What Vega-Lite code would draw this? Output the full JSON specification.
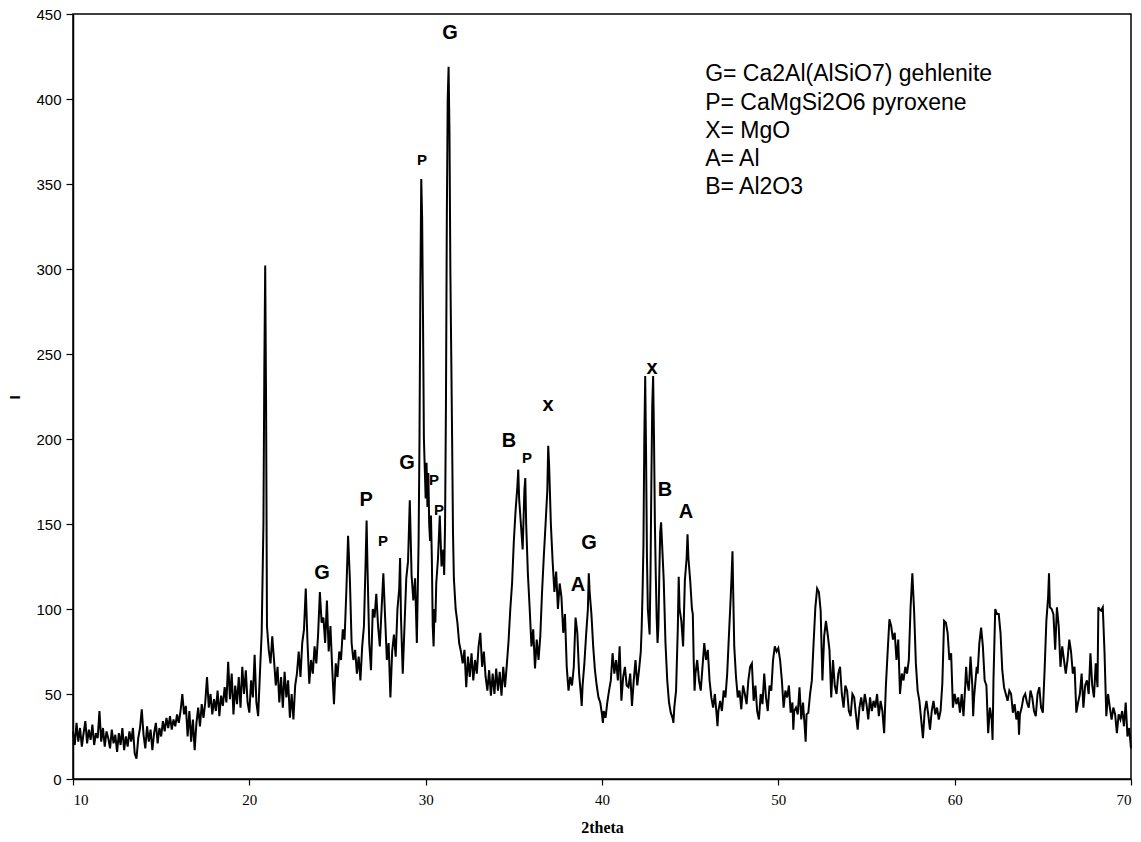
{
"$schema": "https://vega.github.io/schema/vega-lite/v6.json",
"width": 1058, "height": 765,
"autosize": {"type": "none"},
"padding": {"left": 73, "top": 14, "right": 10, "bottom": 63},
"background": "white",
"config": {"view": {"stroke": "black", "strokeWidth": 1.5}, "font": "Liberation Sans"},
"datasets": {
"xrd": [
{"t":10.0,"i":28},{"t":10.1,"i":20},{"t":10.2,"i":33},{"t":10.3,"i":22},{"t":10.4,"i":30},{"t":10.5,"i":19},{"t":10.6,"i":27},{"t":10.7,"i":34},{"t":10.8,"i":21},{"t":10.9,"i":29},
{"t":11.0,"i":23},{"t":11.1,"i":32},{"t":11.2,"i":20},{"t":11.3,"i":27},{"t":11.4,"i":24},{"t":11.5,"i":40},{"t":11.6,"i":22},{"t":11.7,"i":30},{"t":11.8,"i":19},{"t":11.9,"i":28},
{"t":12.0,"i":24},{"t":12.1,"i":18},{"t":12.2,"i":29},{"t":12.3,"i":21},{"t":12.4,"i":26},{"t":12.5,"i":16},{"t":12.6,"i":27},{"t":12.7,"i":20},{"t":12.8,"i":30},{"t":12.9,"i":17},
{"t":13.0,"i":25},{"t":13.1,"i":19},{"t":13.2,"i":28},{"t":13.3,"i":22},{"t":13.4,"i":30},{"t":13.5,"i":15},{"t":13.6,"i":12},{"t":13.7,"i":24},{"t":13.8,"i":30},{"t":13.9,"i":41},
{"t":14.0,"i":26},{"t":14.1,"i":18},{"t":14.2,"i":31},{"t":14.3,"i":22},{"t":14.4,"i":29},{"t":14.5,"i":17},{"t":14.6,"i":27},{"t":14.7,"i":33},{"t":14.8,"i":21},{"t":14.9,"i":30},
{"t":15.0,"i":25},{"t":15.1,"i":34},{"t":15.2,"i":28},{"t":15.3,"i":36},{"t":15.4,"i":30},{"t":15.5,"i":37},{"t":15.6,"i":29},{"t":15.7,"i":35},{"t":15.8,"i":31},{"t":15.9,"i":38},
{"t":16.0,"i":33},{"t":16.1,"i":40},{"t":16.2,"i":50},{"t":16.3,"i":38},{"t":16.4,"i":43},{"t":16.5,"i":25},{"t":16.6,"i":40},{"t":16.7,"i":22},{"t":16.8,"i":35},{"t":16.9,"i":17},
{"t":17.0,"i":33},{"t":17.1,"i":42},{"t":17.2,"i":31},{"t":17.3,"i":44},{"t":17.4,"i":36},{"t":17.5,"i":45},{"t":17.6,"i":60},{"t":17.7,"i":42},{"t":17.8,"i":50},{"t":17.9,"i":38},
{"t":18.0,"i":47},{"t":18.1,"i":40},{"t":18.2,"i":52},{"t":18.3,"i":37},{"t":18.4,"i":49},{"t":18.5,"i":43},{"t":18.6,"i":54},{"t":18.7,"i":45},{"t":18.8,"i":69},{"t":18.9,"i":47},
{"t":19.0,"i":62},{"t":19.1,"i":38},{"t":19.2,"i":55},{"t":19.3,"i":44},{"t":19.4,"i":60},{"t":19.5,"i":42},{"t":19.6,"i":66},{"t":19.7,"i":50},{"t":19.8,"i":64},{"t":19.9,"i":45},
{"t":20.0,"i":39},{"t":20.1,"i":58},{"t":20.2,"i":48},{"t":20.3,"i":73},{"t":20.4,"i":45},{"t":20.5,"i":37},{"t":20.6,"i":62},{"t":20.7,"i":86},{"t":20.8,"i":150},{"t":20.85,"i":240},
{"t":20.9,"i":302},{"t":20.95,"i":220},{"t":21.0,"i":90},{"t":21.1,"i":76},{"t":21.2,"i":68},{"t":21.3,"i":84},{"t":21.4,"i":70},{"t":21.5,"i":55},{"t":21.6,"i":66},{"t":21.7,"i":45},
{"t":21.8,"i":60},{"t":21.9,"i":42},{"t":22.0,"i":63},{"t":22.1,"i":48},{"t":22.2,"i":58},{"t":22.3,"i":36},{"t":22.4,"i":50},{"t":22.5,"i":35},{"t":22.6,"i":55},{"t":22.7,"i":62},
{"t":22.8,"i":75},{"t":22.9,"i":60},{"t":23.0,"i":80},{"t":23.1,"i":88},{"t":23.2,"i":112},{"t":23.3,"i":80},{"t":23.4,"i":56},{"t":23.5,"i":70},{"t":23.6,"i":62},{"t":23.7,"i":78},
{"t":23.8,"i":68},{"t":23.9,"i":85},{"t":24.0,"i":110},{"t":24.1,"i":92},{"t":24.2,"i":95},{"t":24.3,"i":80},{"t":24.4,"i":105},{"t":24.5,"i":75},{"t":24.6,"i":90},{"t":24.7,"i":65},
{"t":24.8,"i":44},{"t":24.9,"i":68},{"t":25.0,"i":60},{"t":25.1,"i":75},{"t":25.2,"i":70},{"t":25.3,"i":88},{"t":25.4,"i":82},{"t":25.5,"i":110},{"t":25.6,"i":143},{"t":25.7,"i":118},
{"t":25.8,"i":80},{"t":25.9,"i":70},{"t":26.0,"i":76},{"t":26.1,"i":62},{"t":26.2,"i":72},{"t":26.3,"i":58},{"t":26.4,"i":78},{"t":26.5,"i":90},{"t":26.6,"i":130},{"t":26.65,"i":152},
{"t":26.7,"i":125},{"t":26.8,"i":80},{"t":26.9,"i":64},{"t":27.0,"i":100},{"t":27.1,"i":95},{"t":27.2,"i":109},{"t":27.3,"i":90},{"t":27.4,"i":78},{"t":27.5,"i":100},{"t":27.6,"i":121},
{"t":27.7,"i":95},{"t":27.8,"i":70},{"t":27.9,"i":80},{"t":28.0,"i":48},{"t":28.1,"i":75},{"t":28.2,"i":85},{"t":28.3,"i":72},{"t":28.4,"i":100},{"t":28.5,"i":112},{"t":28.55,"i":130},
{"t":28.6,"i":95},{"t":28.7,"i":62},{"t":28.8,"i":90},{"t":28.9,"i":118},{"t":29.0,"i":128},{"t":29.1,"i":164},{"t":29.2,"i":120},{"t":29.3,"i":105},{"t":29.4,"i":118},{"t":29.5,"i":80},
{"t":29.6,"i":140},{"t":29.65,"i":200},{"t":29.7,"i":290},{"t":29.75,"i":353},{"t":29.8,"i":330},{"t":29.85,"i":270},{"t":29.9,"i":200},{"t":30.0,"i":165},{"t":30.05,"i":186},{"t":30.1,"i":160},
{"t":30.15,"i":180},{"t":30.2,"i":150},{"t":30.25,"i":140},{"t":30.3,"i":155},{"t":30.35,"i":130},{"t":30.4,"i":90},{"t":30.45,"i":78},{"t":30.5,"i":100},{"t":30.55,"i":92},{"t":30.6,"i":115},
{"t":30.7,"i":130},{"t":30.8,"i":155},{"t":30.85,"i":140},{"t":30.9,"i":125},{"t":31.0,"i":135},{"t":31.05,"i":120},{"t":31.1,"i":150},{"t":31.15,"i":220},{"t":31.2,"i":330},{"t":31.25,"i":400},
{"t":31.3,"i":419},{"t":31.35,"i":380},{"t":31.4,"i":300},{"t":31.45,"i":250},{"t":31.5,"i":200},{"t":31.55,"i":145},{"t":31.6,"i":118},{"t":31.7,"i":100},{"t":31.8,"i":92},{"t":31.9,"i":80},
{"t":32.0,"i":75},{"t":32.1,"i":68},{"t":32.2,"i":76},{"t":32.3,"i":54},{"t":32.4,"i":72},{"t":32.5,"i":60},{"t":32.6,"i":74},{"t":32.7,"i":58},{"t":32.8,"i":70},{"t":32.9,"i":62},
{"t":33.0,"i":78},{"t":33.1,"i":86},{"t":33.2,"i":66},{"t":33.3,"i":75},{"t":33.4,"i":60},{"t":33.5,"i":52},{"t":33.6,"i":64},{"t":33.7,"i":49},{"t":33.8,"i":62},{"t":33.9,"i":50},
{"t":34.0,"i":65},{"t":34.1,"i":52},{"t":34.2,"i":63},{"t":34.3,"i":49},{"t":34.4,"i":66},{"t":34.5,"i":54},{"t":34.6,"i":67},{"t":34.7,"i":81},{"t":34.8,"i":100},{"t":34.9,"i":115},
{"t":35.0,"i":140},{"t":35.1,"i":158},{"t":35.2,"i":172},{"t":35.25,"i":182},{"t":35.3,"i":165},{"t":35.4,"i":150},{"t":35.5,"i":135},{"t":35.6,"i":170},{"t":35.65,"i":177},{"t":35.7,"i":150},
{"t":35.8,"i":120},{"t":35.9,"i":100},{"t":36.0,"i":78},{"t":36.1,"i":88},{"t":36.2,"i":65},{"t":36.3,"i":82},{"t":36.4,"i":70},{"t":36.5,"i":84},{"t":36.6,"i":110},{"t":36.7,"i":131},
{"t":36.8,"i":150},{"t":36.9,"i":170},{"t":36.95,"i":196},{"t":37.0,"i":185},{"t":37.1,"i":150},{"t":37.2,"i":128},{"t":37.3,"i":110},{"t":37.4,"i":122},{"t":37.5,"i":100},{"t":37.6,"i":115},
{"t":37.7,"i":107},{"t":37.8,"i":86},{"t":37.9,"i":97},{"t":38.0,"i":66},{"t":38.1,"i":52},{"t":38.2,"i":60},{"t":38.3,"i":55},{"t":38.4,"i":66},{"t":38.5,"i":95},{"t":38.6,"i":86},
{"t":38.7,"i":62},{"t":38.8,"i":50},{"t":38.85,"i":43},{"t":38.9,"i":55},{"t":39.0,"i":68},{"t":39.1,"i":85},{"t":39.2,"i":100},{"t":39.25,"i":121},{"t":39.3,"i":110},{"t":39.4,"i":97},
{"t":39.5,"i":78},{"t":39.6,"i":64},{"t":39.7,"i":55},{"t":39.8,"i":48},{"t":39.9,"i":45},{"t":40.0,"i":38},{"t":40.05,"i":33},{"t":40.1,"i":40},{"t":40.2,"i":36},{"t":40.3,"i":45},
{"t":40.4,"i":52},{"t":40.5,"i":58},{"t":40.6,"i":74},{"t":40.7,"i":62},{"t":40.8,"i":70},{"t":40.9,"i":58},{"t":41.0,"i":78},{"t":41.1,"i":46},{"t":41.2,"i":60},{"t":41.3,"i":66},
{"t":41.4,"i":55},{"t":41.5,"i":54},{"t":41.6,"i":62},{"t":41.7,"i":43},{"t":41.8,"i":58},{"t":41.9,"i":70},{"t":42.0,"i":55},{"t":42.1,"i":64},{"t":42.2,"i":75},{"t":42.25,"i":89},
{"t":42.3,"i":110},{"t":42.35,"i":137},{"t":42.4,"i":200},{"t":42.45,"i":237},{"t":42.5,"i":190},{"t":42.55,"i":130},{"t":42.6,"i":100},{"t":42.7,"i":85},{"t":42.75,"i":120},{"t":42.8,"i":175},
{"t":42.85,"i":220},{"t":42.9,"i":237},{"t":42.95,"i":200},{"t":43.0,"i":150},{"t":43.05,"i":120},{"t":43.1,"i":95},{"t":43.15,"i":80},{"t":43.2,"i":90},{"t":43.25,"i":120},{"t":43.3,"i":145},
{"t":43.35,"i":151},{"t":43.4,"i":140},{"t":43.5,"i":117},{"t":43.6,"i":80},{"t":43.7,"i":58},{"t":43.8,"i":45},{"t":43.9,"i":39},{"t":44.0,"i":36},{"t":44.05,"i":33},{"t":44.1,"i":42},
{"t":44.2,"i":52},{"t":44.3,"i":89},{"t":44.35,"i":119},{"t":44.4,"i":100},{"t":44.5,"i":93},{"t":44.6,"i":78},{"t":44.7,"i":117},{"t":44.8,"i":130},{"t":44.85,"i":144},{"t":44.9,"i":130},
{"t":45.0,"i":117},{"t":45.1,"i":100},{"t":45.15,"i":97},{"t":45.2,"i":70},{"t":45.25,"i":52},{"t":45.3,"i":62},{"t":45.4,"i":70},{"t":45.5,"i":58},{"t":45.6,"i":52},{"t":45.7,"i":66},
{"t":45.8,"i":80},{"t":45.9,"i":70},{"t":46.0,"i":76},{"t":46.1,"i":58},{"t":46.2,"i":48},{"t":46.3,"i":42},{"t":46.4,"i":50},{"t":46.5,"i":38},{"t":46.55,"i":31},{"t":46.6,"i":40},
{"t":46.7,"i":46},{"t":46.8,"i":40},{"t":46.9,"i":52},{"t":47.0,"i":48},{"t":47.1,"i":62},{"t":47.2,"i":85},{"t":47.3,"i":107},{"t":47.35,"i":120},{"t":47.4,"i":134},{"t":47.45,"i":105},
{"t":47.5,"i":78},{"t":47.6,"i":60},{"t":47.7,"i":48},{"t":47.8,"i":52},{"t":47.9,"i":41},{"t":48.0,"i":55},{"t":48.1,"i":50},{"t":48.2,"i":44},{"t":48.3,"i":58},{"t":48.4,"i":66},
{"t":48.5,"i":68},{"t":48.6,"i":46},{"t":48.7,"i":55},{"t":48.8,"i":40},{"t":48.9,"i":35},{"t":49.0,"i":50},{"t":49.1,"i":44},{"t":49.2,"i":62},{"t":49.3,"i":48},{"t":49.4,"i":40},
{"t":49.5,"i":55},{"t":49.6,"i":52},{"t":49.7,"i":70},{"t":49.8,"i":78},{"t":49.9,"i":75},{"t":50.0,"i":77},{"t":50.1,"i":70},{"t":50.2,"i":58},{"t":50.3,"i":42},{"t":50.4,"i":52},
{"t":50.5,"i":48},{"t":50.6,"i":55},{"t":50.7,"i":39},{"t":50.8,"i":45},{"t":50.85,"i":29},{"t":50.9,"i":40},{"t":51.0,"i":42},{"t":51.1,"i":38},{"t":51.2,"i":54},{"t":51.3,"i":35},
{"t":51.4,"i":45},{"t":51.5,"i":30},{"t":51.55,"i":22},{"t":51.6,"i":38},{"t":51.7,"i":39},{"t":51.8,"i":50},{"t":51.9,"i":58},{"t":52.0,"i":80},{"t":52.1,"i":101},{"t":52.2,"i":112},
{"t":52.3,"i":110},{"t":52.4,"i":99},{"t":52.5,"i":58},{"t":52.6,"i":84},{"t":52.7,"i":93},{"t":52.8,"i":85},{"t":52.9,"i":76},{"t":53.0,"i":48},{"t":53.1,"i":70},{"t":53.2,"i":55},
{"t":53.3,"i":50},{"t":53.4,"i":62},{"t":53.5,"i":66},{"t":53.6,"i":50},{"t":53.7,"i":42},{"t":53.8,"i":55},{"t":53.9,"i":52},{"t":54.0,"i":40},{"t":54.1,"i":37},{"t":54.2,"i":50},
{"t":54.3,"i":48},{"t":54.4,"i":38},{"t":54.5,"i":29},{"t":54.6,"i":42},{"t":54.7,"i":48},{"t":54.8,"i":40},{"t":54.9,"i":50},{"t":55.0,"i":44},{"t":55.1,"i":35},{"t":55.2,"i":48},
{"t":55.3,"i":40},{"t":55.4,"i":46},{"t":55.5,"i":42},{"t":55.6,"i":50},{"t":55.7,"i":37},{"t":55.8,"i":46},{"t":55.9,"i":40},{"t":56.0,"i":27},{"t":56.1,"i":55},{"t":56.2,"i":75},
{"t":56.3,"i":94},{"t":56.4,"i":90},{"t":56.5,"i":82},{"t":56.6,"i":86},{"t":56.7,"i":70},{"t":56.8,"i":82},{"t":56.9,"i":50},{"t":57.0,"i":62},{"t":57.1,"i":58},{"t":57.2,"i":66},
{"t":57.3,"i":62},{"t":57.4,"i":70},{"t":57.5,"i":101},{"t":57.6,"i":121},{"t":57.7,"i":99},{"t":57.8,"i":68},{"t":57.9,"i":52},{"t":58.0,"i":46},{"t":58.1,"i":35},{"t":58.2,"i":24},
{"t":58.3,"i":40},{"t":58.4,"i":46},{"t":58.5,"i":38},{"t":58.6,"i":29},{"t":58.7,"i":40},{"t":58.8,"i":46},{"t":58.9,"i":38},{"t":59.0,"i":42},{"t":59.1,"i":35},{"t":59.2,"i":40},
{"t":59.3,"i":56},{"t":59.4,"i":93},{"t":59.5,"i":92},{"t":59.6,"i":86},{"t":59.7,"i":70},{"t":59.8,"i":74},{"t":59.9,"i":42},{"t":60.0,"i":50},{"t":60.1,"i":44},{"t":60.2,"i":48},
{"t":60.3,"i":39},{"t":60.4,"i":50},{"t":60.5,"i":37},{"t":60.6,"i":55},{"t":60.65,"i":66},{"t":60.7,"i":58},{"t":60.8,"i":52},{"t":60.9,"i":72},{"t":61.0,"i":55},{"t":61.05,"i":37},
{"t":61.1,"i":48},{"t":61.2,"i":60},{"t":61.25,"i":66},{"t":61.3,"i":62},{"t":61.4,"i":80},{"t":61.5,"i":89},{"t":61.6,"i":78},{"t":61.7,"i":58},{"t":61.8,"i":55},{"t":61.9,"i":27},
{"t":62.0,"i":42},{"t":62.1,"i":35},{"t":62.15,"i":23},{"t":62.2,"i":58},{"t":62.3,"i":100},{"t":62.4,"i":97},{"t":62.5,"i":97},{"t":62.6,"i":86},{"t":62.7,"i":64},{"t":62.8,"i":54},
{"t":62.9,"i":50},{"t":63.0,"i":46},{"t":63.1,"i":52},{"t":63.2,"i":50},{"t":63.3,"i":39},{"t":63.4,"i":44},{"t":63.5,"i":35},{"t":63.6,"i":40},{"t":63.65,"i":26},{"t":63.7,"i":38},
{"t":63.8,"i":42},{"t":63.9,"i":48},{"t":64.0,"i":50},{"t":64.1,"i":45},{"t":64.2,"i":42},{"t":64.3,"i":52},{"t":64.4,"i":48},{"t":64.5,"i":40},{"t":64.6,"i":37},{"t":64.7,"i":50},
{"t":64.8,"i":54},{"t":64.9,"i":42},{"t":65.0,"i":39},{"t":65.1,"i":64},{"t":65.2,"i":93},{"t":65.3,"i":107},{"t":65.35,"i":121},{"t":65.4,"i":101},{"t":65.5,"i":100},{"t":65.6,"i":97},
{"t":65.7,"i":76},{"t":65.8,"i":101},{"t":65.9,"i":90},{"t":66.0,"i":66},{"t":66.1,"i":78},{"t":66.2,"i":70},{"t":66.3,"i":62},{"t":66.4,"i":70},{"t":66.5,"i":82},{"t":66.6,"i":75},
{"t":66.7,"i":62},{"t":66.8,"i":66},{"t":66.9,"i":39},{"t":67.0,"i":45},{"t":67.1,"i":50},{"t":67.2,"i":62},{"t":67.3,"i":42},{"t":67.4,"i":55},{"t":67.5,"i":58},{"t":67.6,"i":50},
{"t":67.7,"i":74},{"t":67.8,"i":55},{"t":67.9,"i":48},{"t":68.0,"i":68},{"t":68.1,"i":54},{"t":68.15,"i":101},{"t":68.2,"i":100},{"t":68.3,"i":99},{"t":68.4,"i":101},{"t":68.5,"i":74},
{"t":68.6,"i":37},{"t":68.7,"i":50},{"t":68.8,"i":42},{"t":68.9,"i":35},{"t":69.0,"i":42},{"t":69.1,"i":38},{"t":69.2,"i":27},{"t":69.3,"i":38},{"t":69.4,"i":35},{"t":69.5,"i":40},
{"t":69.6,"i":31},{"t":69.7,"i":45},{"t":69.8,"i":25},{"t":69.9,"i":30},{"t":70.0,"i":18}
],
"big": [
{"s":"G","t":24.12,"i":121},{"s":"P","t":26.62,"i":164},{"s":"G","t":28.94,"i":186},{"s":"G","t":31.38,"i":439},
{"s":"B","t":34.73,"i":199},{"s":"x","t":36.94,"i":220},{"s":"A","t":38.64,"i":114},{"s":"G","t":39.26,"i":139},
{"s":"x","t":42.84,"i":242},{"s":"B","t":43.57,"i":170},{"s":"A","t":44.76,"i":157}
],
"small": [
{"s":"P","t":27.58,"i":140},{"s":"P","t":29.79,"i":364},{"s":"P","t":30.47,"i":176},{"s":"P","t":30.76,"i":158},{"s":"P","t":35.75,"i":189}
]
},
"layer": [
{
"data": {"name": "xrd"},
"mark": {"type": "line", "color": "black", "strokeWidth": 2, "interpolate": "linear"},
"encoding": {
"x": {"field": "t", "type": "quantitative",
"scale": {"domain": [10, 70], "nice": false, "zero": false},
"axis": {"values": [10,20,30,40,50,60,70], "grid": false, "domainColor": "black", "domainWidth": 1.5, "tickColor": "black", "tickSize": 6, "tickWidth": 1.2,
"labelColor": "black", "labelFont": "Liberation Sans Narrow", "labelFontSize": 15, "labelPadding": 7,
"title": "2theta", "titleColor": "black", "titleFont": "Liberation Sans Narrow", "titleFontWeight": "bold", "titleFontSize": 16, "titlePadding": 12}},
"y": {"field": "i", "type": "quantitative",
"scale": {"domain": [0, 450], "nice": false},
"axis": {"values": [0,50,100,150,200,250,300,350,400,450], "grid": false, "domainColor": "black", "domainWidth": 1.5, "tickColor": "black", "tickSize": 7, "tickWidth": 1.2,
"labelColor": "black", "labelFont": "Liberation Sans", "labelFontSize": 15, "labelPadding": 5,
"title": "I", "titleColor": "black", "titleFont": "Liberation Sans", "titleFontWeight": "bold", "titleFontSize": 15, "titleX": -59, "titleY": 383, "titleBaseline": "middle"}}
}
},
{
"data": {"name": "big"},
"mark": {"type": "text", "fontSize": 20, "fontWeight": "bold", "font": "Liberation Sans", "color": "black", "align": "center", "baseline": "middle"},
"encoding": {"x": {"field": "t", "type": "quantitative"}, "y": {"field": "i", "type": "quantitative"}, "text": {"field": "s"}}
},
{
"data": {"name": "small"},
"mark": {"type": "text", "fontSize": 15, "fontWeight": "bold", "font": "Liberation Sans", "color": "black", "align": "center", "baseline": "middle"},
"encoding": {"x": {"field": "t", "type": "quantitative"}, "y": {"field": "i", "type": "quantitative"}, "text": {"field": "s"}}
},
{
"data": {"values": [{}]},
"mark": {"type": "text", "fontSize": 23, "font": "Liberation Sans", "color": "black", "align": "left", "baseline": "top", "lineHeight": 28.3},
"encoding": {"x": {"datum": 45.85}, "y": {"datum": 421},
"text": {"value": ["G= Ca2Al(AlSiO7) gehlenite", "P= CaMgSi2O6 pyroxene", "X= MgO", "A= Al", "B= Al2O3"]}}
}
]
}
